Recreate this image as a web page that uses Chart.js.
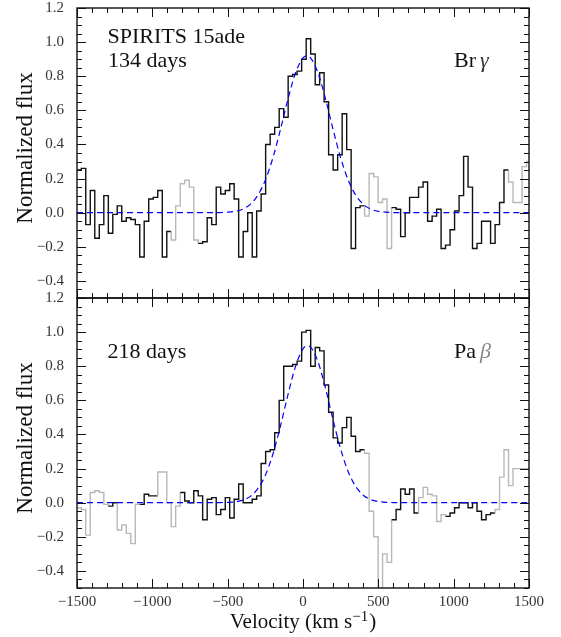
<!DOCTYPE html>
<html>
<head>
<meta charset="utf-8">
<script src="https://cdn.jsdelivr.net/npm/chart.js@4.4.0/dist/chart.umd.min.js"></script>
<style>
  body { margin: 0; background: #fff; }
  #wrap { position: relative; width: 561px; height: 637px; }
  canvas { position: absolute; left: 0; }
  #top { top: 0; }
  #bottom { top: 290px; }
</style>
</head>
<body>
<div id="wrap">
  <canvas id="top" width="561" height="300"></canvas>
  <canvas id="bottom" width="561" height="347"></canvas>
</div>
<script>
// bin centres (km/s), shared by both spectra
const velocity = [
  -1486, -1457, -1427, -1397, -1367, -1337, -1307, -1277, -1248, -1218,
  -1188, -1158, -1128, -1098, -1069, -1039, -1009, -979, -949, -919,
  -889, -860, -830, -800, -770, -740, -710, -681, -651, -621,
  -591, -561, -531, -501, -472, -442, -412, -382, -352, -322,
  -293, -263, -233, -203, -173, -143, -113, -84, -54, -24,
  6, 36, 66, 96, 125, 155, 185, 215, 245, 275,
  305, 334, 364, 394, 424, 454, 484, 513, 543, 573,
  603, 633, 663, 693, 722, 752, 782, 812, 842, 872,
  902, 931, 961, 991, 1021, 1051, 1081, 1110, 1140, 1170,
  1200, 1230, 1260, 1290, 1319, 1349, 1379, 1409, 1439, 1469,
  1498
];

// Br gamma, 134 days
const brFlux = [
  0.25, 0.26, -0.07, 0.13, -0.15, -0.07, 0.10, -0.12, -0.01, 0.04,
  -0.05, -0.03, -0.04, -0.07, -0.26, -0.05, 0.08, 0.09, 0.13, -0.26,
  -0.11, -0.16, 0.04, 0.17, 0.19, 0.15, -0.16, -0.18, -0.17, -0.03,
  -0.07, 0.15, 0.11, 0.13, 0.17, 0.08, -0.26, -0.11, 0.00, -0.26,
  0.01, 0.11, 0.40, 0.46, 0.50, 0.61, 0.56, 0.80, 0.81, 0.83,
  0.90, 1.02, 0.93, 0.75, 0.82, 0.65, 0.34, 0.25, 0.34, 0.58,
  0.37, -0.21, 0.03, 0.04, -0.02, 0.23, 0.21, 0.06, 0.08, -0.21,
  0.03, 0.02, -0.14, 0.00, 0.09, 0.09, 0.15, 0.18, -0.05, -0.02,
  0.02, -0.21, -0.19, -0.10, 0.01, 0.10, 0.33, 0.15, -0.21, -0.18,
  -0.05, -0.05, -0.18, -0.07, 0.06, 0.25, 0.18, 0.06, 0.06, 0.27,
  0.30
];

// Pa beta, 218 days
const paFlux = [
  -0.03, -0.04, -0.19, 0.06, 0.07, 0.06, -0.01, -0.02, 0.00, -0.16,
  -0.13, -0.18, -0.24, -0.01, -0.01, 0.05, 0.04, 0.04, 0.18, 0.18,
  0.00, -0.14, -0.02, 0.06, 0.01, 0.00, 0.07, 0.04, -0.10, 0.02,
  0.03, -0.07, -0.04, 0.03, -0.09, 0.02, 0.11, 0.00, 0.00, 0.02,
  0.04, 0.23, 0.30, 0.31, 0.41, 0.60, 0.80, 0.80, 0.81, 0.83,
  1.00, 1.01, 0.80, 0.91, 0.89, 0.69, 0.53, 0.38, 0.35, 0.44,
  0.50, 0.39, 0.30, 0.31, 0.29, -0.05, -0.20, -0.62, -0.30, -0.35,
  -0.10, -0.04, 0.08, 0.05, 0.08, -0.06, 0.03, 0.09, 0.05, 0.04,
  -0.11, -0.07, -0.08, -0.06, -0.03, 0.00, 0.00, -0.03, 0.00, -0.05,
  -0.10, -0.07, -0.06, -0.04, 0.15, 0.31, 0.10, 0.20, 0.20, 0.20,
  0.20
];

// velocity ranges drawn in grey (masked regions)
const brGrayRanges = [[-875, -695], [410, 590], [1365, 1515]];
const paGrayRanges = [[-1515, -1295], [-1230, -1085], [-960, -820], [410, 590], [770, 945], [1275, 1515]];

// gaussian fits
const fitVelocity = [-1500, -650, -600, -550, -500, -450, -400, -350, -300, -250, -200, -150, -100, -50,
  0, 25, 50, 100, 150, 200, 250, 300, 350, 400, 450, 500, 550, 600, 650, 700, 1500];
const brFit = [0, 0, 0, 0.001, 0.003, 0.008, 0.021, 0.049, 0.102, 0.191, 0.321, 0.487, 0.665, 0.819,
  0.908, 0.92, 0.908, 0.819, 0.665, 0.487, 0.321, 0.191, 0.102, 0.049, 0.021, 0.008, 0.003, 0.001, 0, 0, 0];
const paFit = [0, 0, 0, 0.001, 0.002, 0.005, 0.015, 0.037, 0.082, 0.161, 0.284, 0.448, 0.632, 0.798,
  0.902, 0.919, 0.912, 0.825, 0.668, 0.484, 0.314, 0.182, 0.095, 0.044, 0.018, 0.007, 0.002, 0.001, 0, 0, 0];

const xTicks = [-1500, -1000, -500, 0, 500, 1000, 1500];
const yTicks = [-0.4, -0.2, 0, 0.2, 0.4, 0.6, 0.8, 1.0, 1.2];

const BLACK = '#111';
const GRAY = '#b8b8b8';
const SERIF = '"Liberation Serif", "Times New Roman", serif';

const minus = s => s.replace('-', '\u2212');
const fmtX = v => minus(String(v));
const fmtY = v => minus((Math.abs(v) < 1e-9 ? 0 : v).toFixed(1));

// each bin becomes a flat step between its edges
function stepPoints(vel, flux) {
  const pts = [];
  const n = vel.length;
  for (let i = 0; i < n; i++) {
    const left = i > 0 ? (vel[i - 1] + vel[i]) / 2 : vel[0] - (vel[1] - vel[0]) / 2;
    const right = i < n - 1 ? (vel[i] + vel[i + 1]) / 2 : vel[i] + (vel[i] - vel[i - 1]) / 2;
    pts.push({ x: left, y: flux[i] }, { x: right, y: flux[i] });
  }
  return pts;
}

function decor(opts) {
  return {
    id: 'decor',
    afterDatasetsDraw(chart) {
      const { ctx, chartArea: a, scales: { x, y } } = chart;
      ctx.save();

      // inward ticks on all four sides
      ctx.strokeStyle = BLACK;
      ctx.lineWidth = 1;
      ctx.beginPath();
      for (let v = -1500; v <= 1500; v += 100) {
        const px = Math.round(x.getPixelForValue(v)) + 0.5;
        const len = v % 500 === 0 ? 9 : 5;
        ctx.moveTo(px, a.top); ctx.lineTo(px, a.top + len);
        ctx.moveTo(px, a.bottom); ctx.lineTo(px, a.bottom - len);
      }
      for (let i = -10; i <= 24; i++) {
        const py = Math.round(y.getPixelForValue(i * 0.05)) + 0.5;
        const len = i % 4 === 0 ? 9 : 5;
        ctx.moveTo(a.left, py); ctx.lineTo(a.left + len, py);
        ctx.moveTo(a.right, py); ctx.lineTo(a.right - len, py);
      }
      ctx.stroke();

      // frame
      ctx.lineWidth = 1.4;
      ctx.strokeRect(a.left, a.top, a.right - a.left, a.bottom - a.top);

      // in-panel labels
      ctx.fillStyle = BLACK;
      ctx.textBaseline = 'alphabetic';
      ctx.textAlign = 'left';
      ctx.font = `22px ${SERIF}`;
      opts.labels.forEach(l => {
        ctx.fillText(l.text, a.left + l.dx, a.top + l.dy);
      });
      const lineX = a.right - 75;
      ctx.fillText(opts.line, lineX, a.top + opts.lineDy);
      const w = ctx.measureText(opts.line).width;
      ctx.font = `italic 22px ${SERIF}`;
      ctx.fillStyle = opts.greekColor;
      ctx.fillText(opts.greek, lineX + w + 4, a.top + opts.lineDy);

      // y axis title
      ctx.fillStyle = BLACK;
      ctx.font = `23px ${SERIF}`;
      ctx.save();
      ctx.translate(31.5, a.top + 140);
      ctx.rotate(-Math.PI / 2);
      ctx.textAlign = 'center';
      ctx.fillText('Normalized flux', 0, 0);
      ctx.restore();

      // x axis title with superscript
      if (opts.showX) {
        const base = 'Velocity (km s';
        const sup = '\u22121';
        ctx.font = `21px ${SERIF}`;
        const w1 = ctx.measureText(base).width;
        const w3 = ctx.measureText(')').width;
        ctx.font = `15px ${SERIF}`;
        const w2 = ctx.measureText(sup).width;
        const total = w1 + w2 + w3 + 1;
        const cx = (a.left + a.right) / 2;
        const by = a.bottom + 40;
        let px = cx - total / 2;
        ctx.textAlign = 'left';
        ctx.font = `21px ${SERIF}`;
        ctx.fillText(base, px, by);
        px += w1;
        ctx.font = `15px ${SERIF}`;
        ctx.fillText(sup, px, by - 7);
        px += w2 + 1;
        ctx.font = `21px ${SERIF}`;
        ctx.fillText(')', px, by);
      }
      ctx.restore();
    }
  };
}

function makeChart(canvas, flux, grayRanges, fit, opts) {
  const gray = velocity.map(v => grayRanges.some(([lo, hi]) => v >= lo && v <= hi));
  const isGray = ctx => gray[Math.floor(ctx.p0DataIndex / 2)] || gray[Math.floor(ctx.p1DataIndex / 2)];
  const tickFont = { family: SERIF, size: 15 };

  return new Chart(canvas, {
    type: 'line',
    data: {
      datasets: [
        {
          data: fitVelocity.map((v, i) => ({ x: v, y: fit[i] })),
          borderColor: '#0000ff',
          borderWidth: 1.2,
          borderDash: [6, 4],
          pointRadius: 0,
          cubicInterpolationMode: 'monotone',
        },
        {
          data: stepPoints(velocity, flux),
          borderColor: BLACK,
          borderWidth: 1.4,
          pointRadius: 0,
          tension: 0,
          segment: {
            borderColor: ctx => (isGray(ctx) ? GRAY : BLACK),
          },
        },
      ],
    },
    options: {
      responsive: false,
      animation: false,
      devicePixelRatio: 1,
      events: [],
      layout: { padding: { top: 8, right: 32, bottom: opts.padBottom, left: 0 } },
      plugins: {
        legend: { display: false },
        tooltip: { enabled: false },
      },
      scales: {
        x: {
          type: 'linear',
          min: -1500,
          max: 1500,
          display: opts.showX,
          grid: { display: false },
          border: { display: false },
          afterBuildTicks: s => { s.ticks = xTicks.map(v => ({ value: v })); },
          afterFit: s => {
            if (opts.showX) s.height = 49;
            s.paddingLeft = 0;
            s.paddingRight = 0;
          },
          ticks: {
            font: tickFont,
            color: '#333',
            padding: -3,
            maxRotation: 0,
            autoSkip: false,
            callback: fmtX,
          },
        },
        y: {
          min: -0.5,
          max: 1.2,
          grid: { display: false },
          border: { display: false },
          afterBuildTicks: s => { s.ticks = yTicks.map(v => ({ value: v })); },
          afterFit: s => {
            s.width = 77;
            s.paddingTop = 0;
            s.paddingBottom = 0;
          },
          ticks: {
            font: tickFont,
            color: '#333',
            padding: 5,
            callback: fmtY,
          },
        },
      },
    },
    plugins: [decor(opts)],
  });
}

const chartTop = makeChart(document.getElementById('top'), brFlux, brGrayRanges, brFit, {
  showX: false,
  padBottom: 2,
  labels: [
    { text: 'SPIRITS 15ade', dx: 30.5, dy: 35 },
    { text: '134 days', dx: 31, dy: 59 },
  ],
  line: 'Br',
  greek: '\u03b3',
  greekColor: '#333',
  lineDy: 59,
});

const chartBottom = makeChart(document.getElementById('bottom'), paFlux, paGrayRanges, paFit, {
  showX: true,
  padBottom: 0,
  labels: [
    { text: '218 days', dx: 30.5, dy: 60 },
  ],
  line: 'Pa',
  greek: '\u03b2',
  greekColor: '#888',
  lineDy: 60,
});
</script>
</body>
</html>
